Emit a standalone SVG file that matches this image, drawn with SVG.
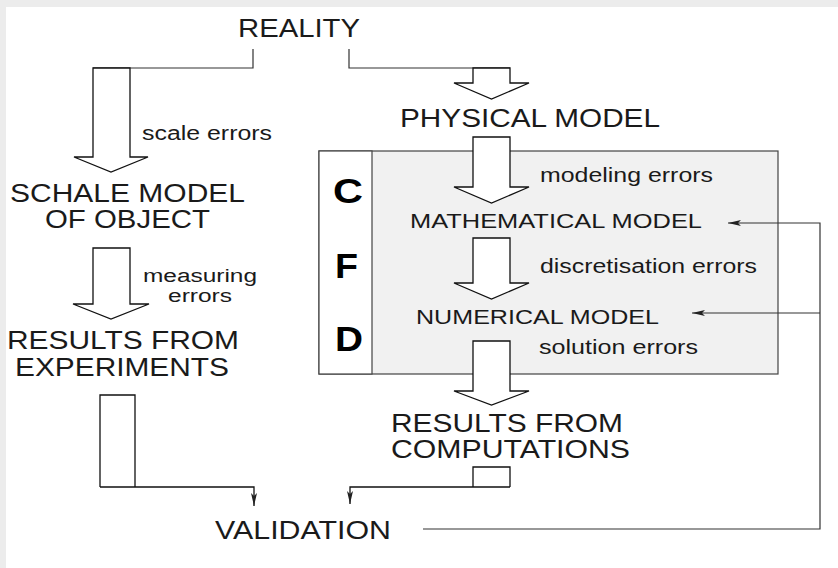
<svg xmlns="http://www.w3.org/2000/svg" width="838" height="568" viewBox="0 0 838 568">
<style>
text{font-family:"Liberation Sans",Arial,sans-serif;fill:#1a1a1a;}
.big{font-size:25px;}
.mid{font-size:21px;}
.sm{font-size:20px;}
.xs{font-size:18px;}
.cfd{font-size:35px;font-weight:bold;fill:#000;}
.arr{fill:#fff;stroke:#111;stroke-width:1.3;stroke-linejoin:miter;}
.ln{fill:none;stroke:#333;stroke-width:1.2;}
</style>
<defs>
<marker id="ah" markerWidth="14" markerHeight="8" refX="13" refY="4" orient="auto" markerUnits="userSpaceOnUse">
<path d="M0,1 L13,4 L0,7 L3,4 z" fill="#222"/>
</marker>
</defs>
<rect x="0" y="0" width="838" height="568" fill="#ececec"/>
<rect x="6" y="7" width="832" height="561" fill="#fff"/>

<g id="cfd-box">
<rect x="319" y="151" width="459" height="223" fill="#f1f1f1" stroke="#444" stroke-width="1.2"/>
<rect x="319" y="151" width="53" height="223" fill="#fff" stroke="#444" stroke-width="1.2"/>
<text class="cfd" x="333" y="203" textLength="30" lengthAdjust="spacingAndGlyphs">C</text>
<text class="cfd" x="335" y="278" textLength="23" lengthAdjust="spacingAndGlyphs">F</text>
<text class="cfd" x="335" y="351" textLength="28" lengthAdjust="spacingAndGlyphs">D</text>
</g>

<g id="connectors">
<polyline class="ln" points="253,49 253,68 93,68"/>
<polyline class="ln" points="349,49 349,68 510,68"/>
<polygon class="arr" points="93,68 130,68 130,157 148,157 111,172 74,157 93,157"/>
<polygon class="arr" points="473,68 510,68 510,83 529,83 491.5,99 454,83 473,83"/>
<polygon class="arr" points="93,248 130,248 130,304 149,304 111,319 73,304 93,304"/>
<polygon class="arr" points="473,137 510,137 510,187 529,187 491.5,203 454,187 473,187"/>
<polygon class="arr" points="473,238 510,238 510,283 529,283 491.5,299 454,283 473,283"/>
<polygon class="arr" points="473,341 510,341 510,391 529,391 491.5,405 454,391 473,391"/>
<polyline class="arr" points="100,487 100,395 135,395 135,487"/>
<polyline class="ln" style="stroke:#111;stroke-width:1.3" points="100,487 254,487 254,506" marker-end="url(#ah)"/>
<polyline class="arr" points="473,487 473,467 510,467 510,487"/>
<polyline class="ln" style="stroke:#111;stroke-width:1.3" points="510,487 350,487 350,504" marker-end="url(#ah)"/>
<polyline class="ln" points="423,529 820,529 820,223 728,223" marker-end="url(#ah)"/>
<polyline class="ln" points="820,313 692,313" marker-end="url(#ah)"/>
</g>

<g id="reality"><text class="big" x="238" y="37" textLength="122" lengthAdjust="spacingAndGlyphs">REALITY</text></g>
<g id="scale-errors"><text class="sm" x="142" y="140" textLength="130" lengthAdjust="spacingAndGlyphs">scale errors</text></g>
<g id="physical-model"><text class="big" x="400" y="127" textLength="260" lengthAdjust="spacingAndGlyphs">PHYSICAL MODEL</text></g>
<g id="schale-model">
<text class="big" x="10" y="202" textLength="235" lengthAdjust="spacingAndGlyphs">SCHALE MODEL</text>
<text class="big" x="45" y="228" textLength="165" lengthAdjust="spacingAndGlyphs">OF OBJECT</text>
</g>
<g id="measuring-errors">
<text class="xs" x="143" y="282" textLength="114" lengthAdjust="spacingAndGlyphs">measuring</text>
<text class="xs" x="168" y="302" textLength="64" lengthAdjust="spacingAndGlyphs">errors</text>
</g>
<g id="results-experiments">
<text class="big" x="7" y="349" textLength="232" lengthAdjust="spacingAndGlyphs">RESULTS FROM</text>
<text class="big" x="15" y="376" textLength="214" lengthAdjust="spacingAndGlyphs">EXPERIMENTS</text>
</g>
<g id="modeling-errors"><text class="sm" x="540" y="182" textLength="173" lengthAdjust="spacingAndGlyphs">modeling errors</text></g>
<g id="mathematical-model"><text class="mid" x="410" y="228" textLength="292" lengthAdjust="spacingAndGlyphs">MATHEMATICAL MODEL</text></g>
<g id="discretisation-errors"><text class="sm" x="540" y="273" textLength="217" lengthAdjust="spacingAndGlyphs">discretisation errors</text></g>
<g id="numerical-model"><text class="mid" x="416" y="324" textLength="243" lengthAdjust="spacingAndGlyphs">NUMERICAL MODEL</text></g>
<g id="solution-errors"><text class="sm" x="539" y="354" textLength="159" lengthAdjust="spacingAndGlyphs">solution errors</text></g>
<g id="results-computations">
<text class="big" x="391" y="432" textLength="232" lengthAdjust="spacingAndGlyphs">RESULTS FROM</text>
<text class="big" x="391" y="458" textLength="239" lengthAdjust="spacingAndGlyphs">COMPUTATIONS</text>
</g>
<g id="validation"><text class="big" x="215" y="539" textLength="176" lengthAdjust="spacingAndGlyphs">VALIDATION</text></g>
</svg>
